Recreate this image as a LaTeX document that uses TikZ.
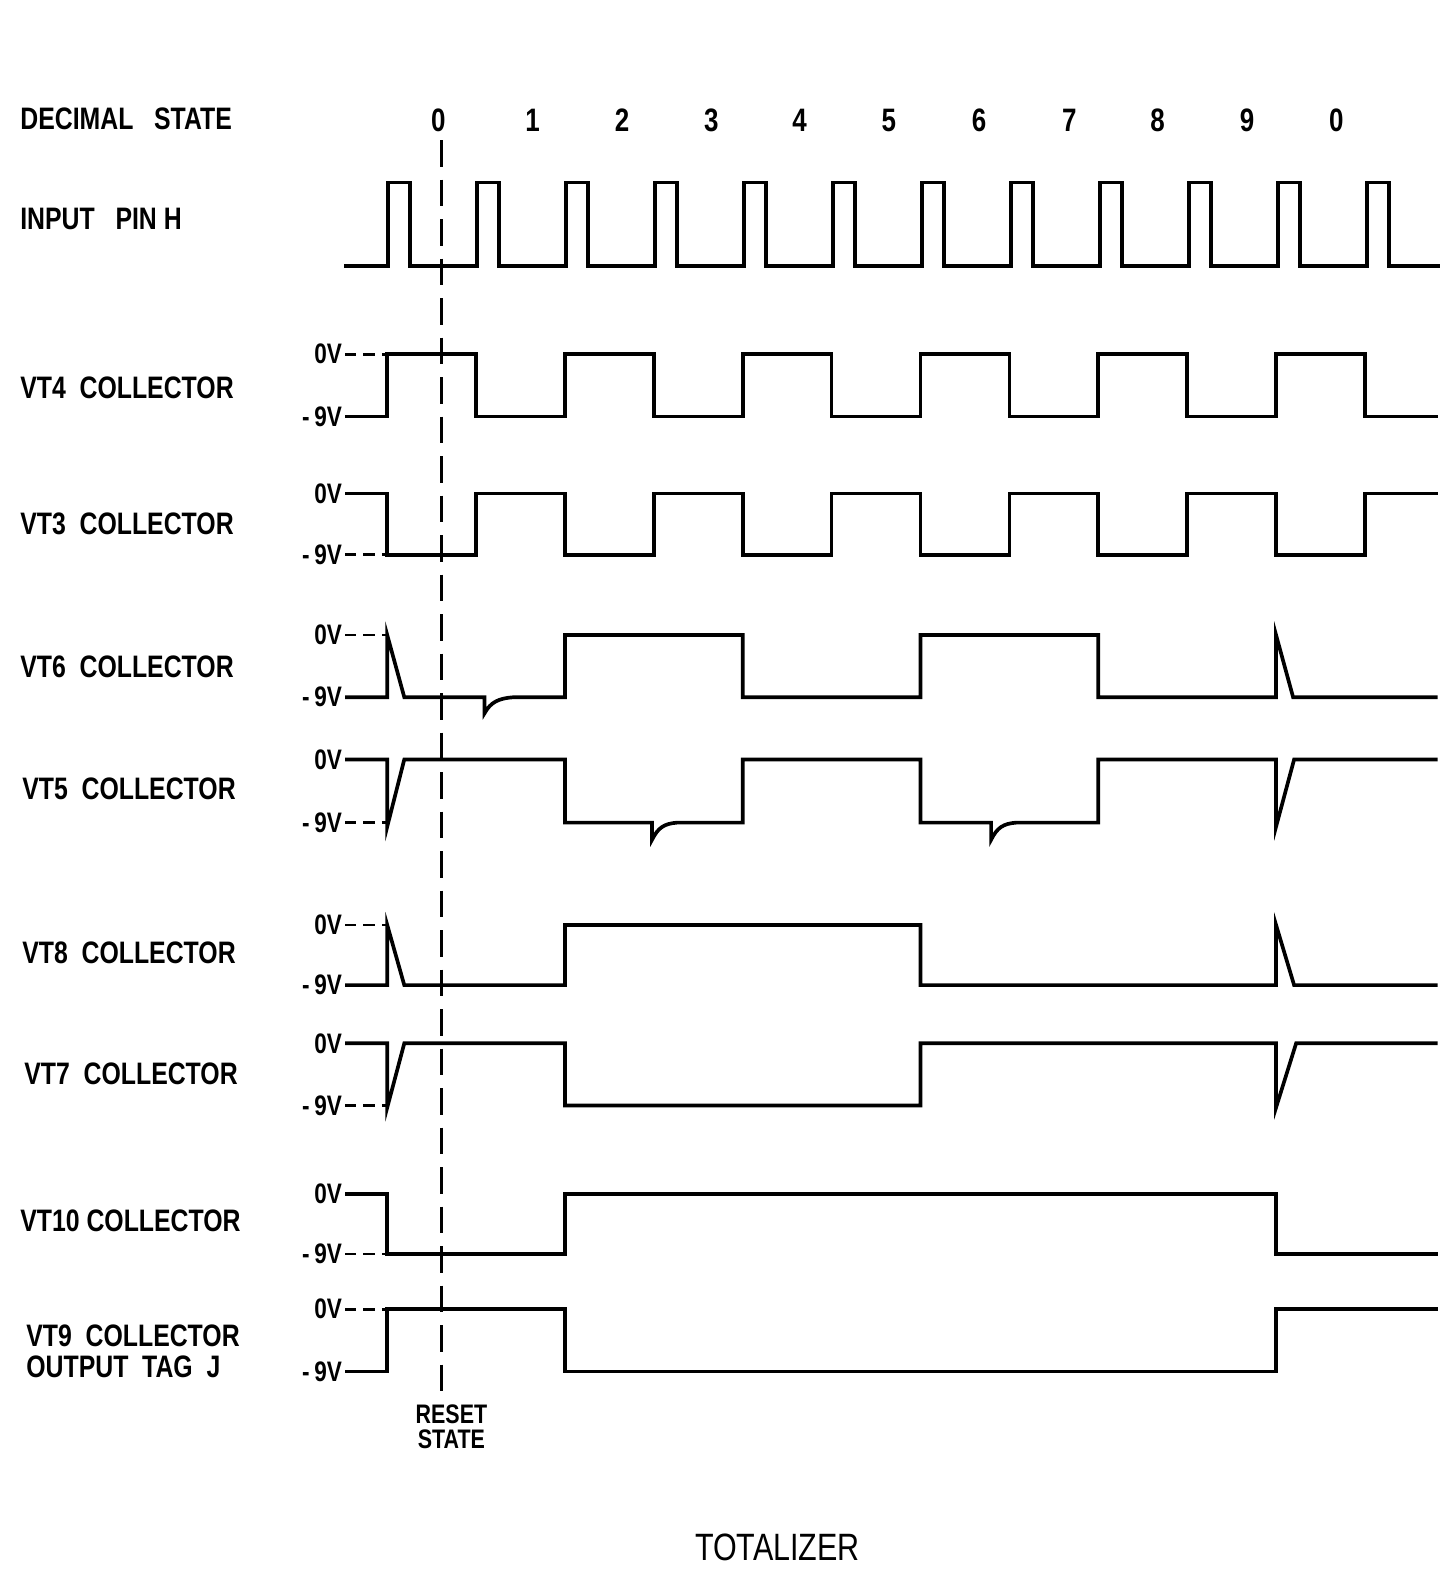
\documentclass[tikz,border=0pt]{standalone}
\usepackage{fontspec}
\setmainfont{Liberation Sans}[FakeStretch=0.8]
\begin{document}
\begin{tikzpicture}[x=0.025cm, y=-0.025cm, line join=miter]
      \tikzstyle{wave}=[line width=2.6pt]
      \tikzstyle{leader}=[line width=2pt, dash pattern=on 8pt off 5pt]
      \tikzstyle{resetline}=[line width=1.8pt, dash pattern=on 19pt off 9pt]
      \tikzstyle{signame}=[anchor=west, inner sep=0pt, font=\fontsize{22}{22}\selectfont\bfseries]
      \tikzstyle{volt}=[anchor=east, inner xsep=2pt, inner ysep=0pt, font=\fontsize{20}{20}\selectfont\bfseries]
      \tikzstyle{digit}=[inner sep=0pt, font=\fontsize{23}{26}\selectfont\bfseries]
      \useasboundingbox (0,0) rectangle (1441,1568);

      % signal names
      \node [signame] (decimal) at (20,118) {DECIMAL\ \ \ STATE};
      \node [signame] (input) at (20,218) {INPUT\ \ \ PIN\ H};
      \node [signame] (vt4) at (20,387) {VT4\ \ COLLECTOR};
      \node [signame] (vt3) at (20,522) {VT3\ \ COLLECTOR};
      \node [signame] (vt6) at (20,665) {VT6\ \ COLLECTOR};
      \node [signame] (vt5) at (22,786) {VT5\ \ COLLECTOR};
      \node [signame] (vt8) at (22,950) {VT8\ \ COLLECTOR};
      \node [signame] (vt7) at (24,1070) {VT7\ \ COLLECTOR};
      \node [signame] (vt10) at (20,1217) {VT10\ COLLECTOR};
      \node [signame, align=left] (vt9) at (26,1347) {VT9\ \ COLLECTOR\\OUTPUT\ \ TAG\ \ J};

      % decimal states
      \foreach \d/\x [count=\i] in {0/437,1/531,2/620,3/709,4/797,5/886,6/976,7/1066,8/1154,9/1243,0/1332}
      \node [digit] (state-\i) at (\x,120) {\d};

      % voltage levels
      \foreach \n/\h/\l in {vt4/353/415, vt3/492/553, vt6/633/695, vt5/757/820, vt8/922/982, vt7/1040/1102, vt10/1190/1250, vt9/1305/1367} {
          \node [volt] (\n-hi) at (344,\h) {0V};
          \node [volt] (\n-lo) at (344,\l) {-\,9V};
      };

      % input pulses
      \draw [wave] (343,265) foreach \k in {0,...,11} { -- ({387+88.7*\k},265) -- ++(0,-83) -- ++(22,0) -- ++(0,83) } -- (1435,265);

      % draw waves
      \draw [leader] (vt4-hi.east) -- (386,353);
      \draw [wave] (vt4-lo.east) -- (386,415) |- (474.6,353) |- (563.2,415) |- (651.8,353) |- (740.4,415) |- (829,353) |- (917.6,415) |- (1006.2,353) |- (1094.8,415) |- (1183.4,353) |- (1272,415) |- (1360.6,353) |- (1433,415);

      \draw [leader] (vt3-lo.east) -- (386,553);
      \draw [wave] (vt3-hi.east) -- (386,492) |- (474.6,553) |- (563.2,492) |- (651.8,553) |- (740.4,492) |- (829,553) |- (917.6,492) |- (1006.2,553) |- (1094.8,492) |- (1183.4,553) |- (1272,492) |- (1360.6,553) |- (1433,492);

      \draw [leader] (vt6-hi.east) -- (386,633);
      \draw [wave] (vt6-lo.east) -- (386,695) -- (386,633) -- (403,695) -- (483,695) -- (483,711) .. controls (489,700) and (497,696) .. (512,695) -- (563.2,695) |- (740.4,633) |- (917.6,695) |- (1094.8,633) |- (1272,695) -- (1272,633) -- (1289,695) -- (1433,695);

      \draw [leader] (vt5-lo.east) -- (386,820);
      \draw [wave] (vt5-hi.east) -- (386,757) -- (386,824) -- (403,757) -- (563.2,757) |- (650,820) -- (650,837) .. controls (656,825) and (662,821) .. (675,820) -- (740.4,820) |- (917.6,757) |- (988,820) -- (988,837) .. controls (994,825) and (1000,821) .. (1013,820) -- (1094.8,820) |- (1272,757) -- (1272,824) -- (1290,757) -- (1433,757);

      \draw [leader] (vt8-hi.east) -- (386,922);
      \draw [wave] (vt8-lo.east) -- (386,982) -- (386,922) -- (403,982) -- (563.2,982) |- (917.6,922) |- (1272,982) -- (1272,922) -- (1290,982) -- (1433,982);

      \draw [leader] (vt7-lo.east) -- (386,1102);
      \draw [wave] (vt7-hi.east) -- (386,1040) -- (386,1104) -- (403,1040) -- (563.2,1040) |- (917.6,1102) |- (1272,1040) -- (1272,1104) -- (1292,1040) -- (1433,1040);

      \draw [leader] (vt10-lo.east) -- (386,1250);
      \draw [wave] (vt10-hi.east) -- (386,1190) |- (563.2,1250) |- (1272,1190) |- (1433,1250);

      \draw [leader] (vt9-hi.east) -- (386,1305);
      \draw [wave] (vt9-lo.east) -- (386,1367) |- (563.2,1305) |- (1272,1367) |- (1433,1305);

      % reset state
      \node [align=center, inner sep=0pt, font=\fontsize{19}{18}\selectfont\bfseries] (reset) at (450,1422) {RESET\\STATE};
      \draw [resetline] (state-1.south) ++(3,8) coordinate (resettop) -- (resettop |- reset.north) coordinate (resetbot);

      \node [font=\fontsize{27}{30}\selectfont] (title) at (775,1542) {TOTALIZER};

    \end{tikzpicture}
\end{document}
